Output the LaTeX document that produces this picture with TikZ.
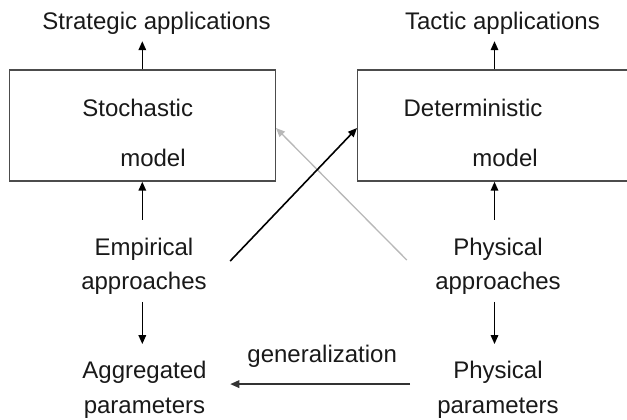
\documentclass[tikz,border=0pt]{standalone}
\usepackage{fontspec}
\setmainfont{Liberation Sans}
\usetikzlibrary{arrows.meta}
\begin{document}
\begin{tikzpicture}[x=1pt,y=-1pt,
  txt/.style={inner sep=0pt, font=\fontsize{24}{34.4}\selectfont, align=center, text=black!90},
  modelbox/.style={draw=black!70, line width=1.4pt, minimum width=266pt, minimum height=111pt, inner sep=0pt},
  arr/.style={-{Triangle[length=9pt,width=7.5pt]}, line width=1.6pt, black},
  grayarr/.style={arr, draw=black!28, fill=black!28, line width=1.3pt},
]
\useasboundingbox (0,0) rectangle (627,420);
\clip (0,0) rectangle (627,420);
% boxes
\node[modelbox] (stoch) at (142.3,125.5) {};
\node[modelbox, minimum width=273.6pt] (det) at (494.5,125.5) {};
% texts
\node[txt, anchor=base] (strat) at (156.5,30) {Strategic applications};
\node[txt, anchor=base] (tact) at (502.5,30) {Tactic applications};
\node[txt, anchor=base] (stochA) at (137.7,117) {Stochastic};
\node[txt, anchor=base] (stochB) at (153,166.7) {model};
\node[txt, anchor=base] (detA) at (473,116.7) {Deterministic};
\node[txt, anchor=base] (detB) at (505,166.7) {model};
\node[txt, anchor=north] (emp) at (144,237.8) {Empirical\\approaches};
\node[txt, anchor=north] (agg) at (144.5,361.1) {Aggregated\\parameters};
\node[txt, anchor=north] (phys) at (498,237.8) {Physical\\approaches};
\node[txt, anchor=north] (ppar) at (498,361.1) {Physical\\parameters};
% vertical arrows
\draw[arr, shorten >=6pt] (stoch.north) -- (stoch.north |- strat.south);
\draw[arr, shorten >=6pt] (det.north) -- (det.north |- tact.south);
\draw[arr, shorten <=18pt] (stoch.south |- emp.north) -- (stoch.south);
\draw[arr, shorten <=18pt] (det.south |- phys.north) -- (det.south);
\draw[arr, shorten <=7pt, shorten >=17pt] (stoch.south |- emp.south) -- (stoch.south |- agg.north);
\draw[arr, shorten <=7pt, shorten >=17pt] (det.south |- phys.south) -- (det.south |- ppar.north);
% diagonals
\draw[grayarr] ([shift={(-28.3pt,-22.2pt)}]phys.north west) -- ([yshift=-2.5pt]stoch.east);
\draw[arr] ([shift={(23.3pt,-23.2pt)}]emp.north east) -- ([yshift=-2.5pt]det.west);
% generalization
\draw[arr, draw=black!80] ([shift={(-27pt,-23pt)}]ppar.north west) -- ([shift={(23.5pt,-23pt)}]agg.north east)
  node[txt, midway, anchor=base, yshift=22pt, xshift=2pt] (gen) {generalization};
\end{tikzpicture}
\end{document}
